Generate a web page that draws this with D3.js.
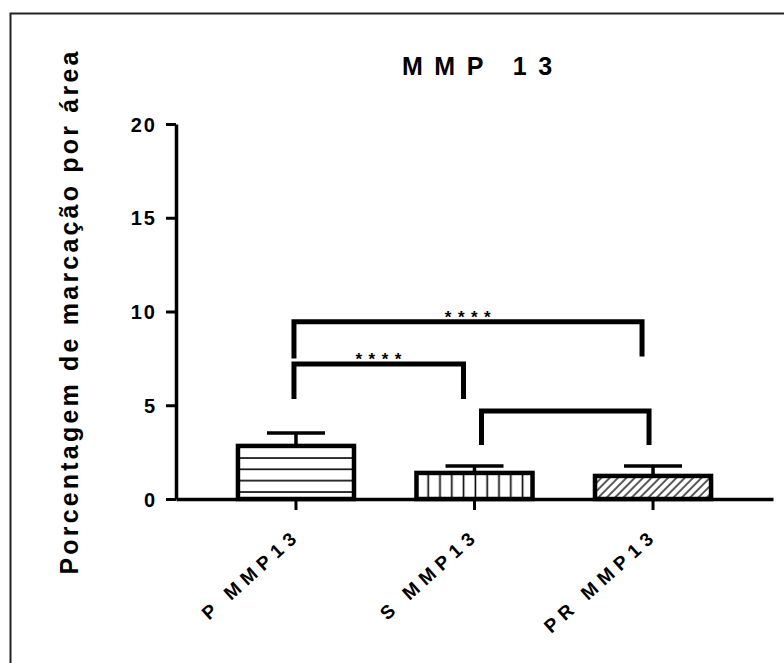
<!DOCTYPE html>
<html>
<head>
<meta charset="utf-8">
<script src="https://cdn.jsdelivr.net/npm/d3@7"></script>
<style>
  body { margin: 0; background: #fff; }
  text { font-family: Arial, "Liberation Sans", sans-serif; font-weight: bold; fill: #000; }
</style>
</head>
<body>
<div id="chart"></div>
<script>
// Values
const categories = ["P MMP13", "S MMP13", "PR MMP13"];
const means = [2.83, 1.39, 1.23];
const errors = [0.69, 0.37, 0.53];
const yTicks = [0, 5, 10, 15, 20];

// Significance brackets: group indexes, bar height and leg ends (data units)
const bracketFrom = [0, 0, 1];
const bracketTo = [1, 2, 2];
const bracketLevel = [7.2, 9.45, 4.7];
const bracketLegFrom = [5.33, 7.5, 2.88];
const bracketLegTo = [5.33, 7.6, 2.88];
const bracketLabels = ["****", "****", ""];

const width = 784;
const height = 663;
const margin = { top: 124, right: 11, bottom: 164, left: 176 };

const svg = d3.select("#chart")
    .append("svg")
    .attr("width", width)
    .attr("height", height);

// outer frame (only top and left edges visible)
svg.append("path")
    .attr("d", "M10.5,663 L10.5,13.5 L784,13.5")
    .attr("fill", "none")
    .attr("stroke", "#222")
    .attr("stroke-width", 2);

// fill patterns
const defs = svg.append("defs");
const pH = defs.append("pattern").attr("id", "pat0")
    .attr("patternUnits", "userSpaceOnUse").attr("width", 10).attr("height", 11.33);
pH.append("line").attr("x1", 0).attr("x2", 10).attr("y1", 4.8).attr("y2", 4.8)
    .attr("stroke", "#000").attr("stroke-width", 1.6);

const pV = defs.append("pattern").attr("id", "pat1")
    .attr("patternUnits", "userSpaceOnUse").attr("width", 11.8).attr("height", 10);
pV.append("line").attr("x1", 3.4).attr("x2", 3.4).attr("y1", 0).attr("y2", 10)
    .attr("stroke", "#000").attr("stroke-width", 1.6);

const pD = defs.append("pattern").attr("id", "pat2")
    .attr("patternUnits", "userSpaceOnUse").attr("width", 5.9).attr("height", 10)
    .attr("patternTransform", "rotate(45)");
pD.append("line").attr("x1", 2).attr("x2", 2).attr("y1", 0).attr("y2", 10)
    .attr("stroke", "#000").attr("stroke-width", 1.3);

// scales
const x = d3.scaleBand()
    .domain(categories)
    .range([margin.left, width - margin.right])
    .paddingInner(0.35)
    .paddingOuter(0.347);

const y = d3.scaleLinear()
    .domain([0, 20])
    .range([height - margin.bottom, margin.top]);

const cx = i => x(categories[i]) + x.bandwidth() / 2;

// bars
svg.selectAll("rect.bar")
    .data(categories)
    .enter()
    .append("rect")
    .attr("class", "bar")
    .attr("x", d => x(d))
    .attr("y", (d, i) => y(means[i]))
    .attr("width", x.bandwidth())
    .attr("height", (d, i) => y(0) - y(means[i]))
    .attr("fill", (d, i) => `url(#pat${i})`)
    .attr("stroke", "#000")
    .attr("stroke-width", 4.5);

// error bars (upper only)
const eb = svg.selectAll("g.err")
    .data(categories)
    .enter()
    .append("g")
    .attr("class", "err");
eb.append("line")
    .attr("x1", (d, i) => cx(i)).attr("x2", (d, i) => cx(i))
    .attr("y1", (d, i) => y(means[i])).attr("y2", (d, i) => y(means[i] + errors[i]))
    .attr("stroke", "#000").attr("stroke-width", 3.5);
eb.append("line")
    .attr("x1", (d, i) => cx(i) - x.bandwidth() / 4).attr("x2", (d, i) => cx(i) + x.bandwidth() / 4)
    .attr("y1", (d, i) => y(means[i] + errors[i])).attr("y2", (d, i) => y(means[i] + errors[i]))
    .attr("stroke", "#000").attr("stroke-width", 3.5);

// axes
const xAxis = svg.append("g")
    .attr("transform", `translate(0,${y(0)})`)
    .call(d3.axisBottom(x).tickSize(11).tickSizeOuter(0));
xAxis.select(".domain").attr("stroke-width", 3.5);
xAxis.selectAll(".tick line").attr("stroke-width", 3);
xAxis.selectAll(".tick text")
    .attr("x", 0).attr("y", 0).attr("dy", 0)
    .attr("text-anchor", "end")
    .attr("transform", "translate(6,38) rotate(-42)")
    .style("font-size", "19px")
    .style("letter-spacing", "6px");

const yAxis = svg.append("g")
    .attr("transform", `translate(${margin.left},0)`)
    .call(d3.axisLeft(y).tickValues(yTicks).tickSize(10).tickSizeOuter(0));
yAxis.select(".domain").attr("stroke-width", 3.5);
yAxis.selectAll(".tick line").attr("stroke-width", 3);
yAxis.selectAll(".tick text")
    .attr("x", -19)
    .attr("dy", "0.36em")
    .style("font-size", "20px")
    .style("letter-spacing", "2px");

// significance brackets
const bOff = [[-2, -11], [-2, -11], [7, -4]];
bracketFrom.forEach((a, k) => {
    const x1 = cx(a) + bOff[k][0];
    const x2 = cx(bracketTo[k]) + bOff[k][1];
    svg.append("path")
        .attr("d", `M${x1},${y(bracketLegFrom[k])} L${x1},${y(bracketLevel[k])} L${x2},${y(bracketLevel[k])} L${x2},${y(bracketLegTo[k])}`)
        .attr("fill", "none")
        .attr("stroke", "#000")
        .attr("stroke-width", 5);
    if (bracketLabels[k]) {
        svg.append("text")
            .attr("x", (x1 + x2) / 2 + 3)
            .attr("y", y(bracketLevel[k]) + 1)
            .attr("text-anchor", "middle")
            .style("font-size", "17px")
            .style("letter-spacing", "6.5px")
            .text(bracketLabels[k]);
    }
});

// title
svg.append("text")
    .attr("x", 402)
    .attr("y", 75)
    .attr("text-anchor", "start")
    .style("font-size", "25px")
    .style("letter-spacing", "11.5px")
    .text("MMP 13");

// y label
svg.append("text")
    .attr("transform", `translate(78,${y(10)}) rotate(-90)`)
    .attr("text-anchor", "middle")
    .style("font-size", "25px")
    .style("letter-spacing", "3.2px")
    .text("Porcentagem de marcação por área");
</script>
</body>
</html>
